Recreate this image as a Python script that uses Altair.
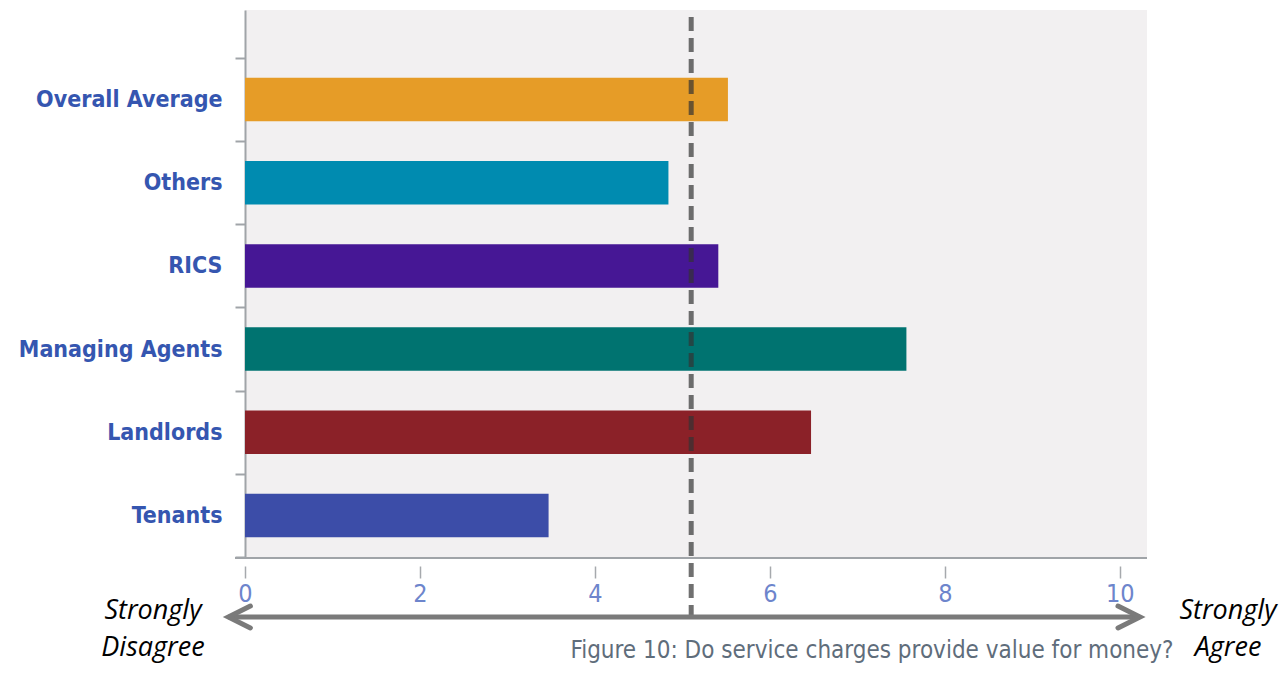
import altair as alt
import pandas as pd

# ---- data ----
categories = ["Overall Average", "Others", "RICS", "Managing Agents", "Landlords", "Tenants"]
values = [5.52, 4.84, 5.41, 7.56, 6.47, 3.47]
bar_colors = ["#e69c27", "#008bb0", "#461795", "#007370", "#8b2128", "#3c4da8"]
x_ticks = [0, 2, 4, 6, 8, 10]
x_max = 10.31
neutral_value = 5.1
arrow_ends = [-0.19, 10.23]
title_text = "Figure 10: Do service charges provide value for money?"
left_note = ["Strongly", "Disagree"]
right_note = ["Strongly", "Agree"]

W, H = 902, 547

df = pd.DataFrame({"group": categories, "score": values})

label_font = "DejaVu Sans Condensed, Liberation Sans"

xscale = alt.Scale(domain=[0, x_max], nice=False, zero=True)
yscale = alt.Scale(domain=categories, paddingInner=0, paddingOuter=0.2885, align=1)

bars = alt.Chart(df).mark_bar(height=alt.RelativeBandSize(0.523)).encode(
    x=alt.X("score:Q", scale=xscale,
            axis=alt.Axis(values=x_ticks, format="d", title=None, domain=False, grid=False,
                          offset=9, tickSize=12, tickColor="#a6a9ad", tickWidth=1.5,
                          labelFont=label_font, labelFontSize=25, labelColor="#6d85cc",
                          labelPadding=3, labelFlush=False)),
    y=alt.Y("group:N", scale=yscale, sort=categories,
            axis=alt.Axis(title=None, tickBand="extent", tickSize=10, tickColor="#a0a4a8",
                          tickWidth=2, domainColor="#a0a4a8", domainWidth=2, labelLimit=0,
                          labelFont=label_font, labelFontSize=23, labelFontWeight="bold",
                          labelColor="#3556b0", labelPadding=13, grid=False)),
    color=alt.Color("group:N", scale=alt.Scale(domain=categories, range=bar_colors), legend=None),
)

bottom_line = alt.Chart(df).mark_rule(color="#a0a4a8", strokeWidth=2).encode(
    x=alt.value(-10), x2=alt.value(W), y=alt.value(H + 1)
)

dash = alt.Chart(pd.DataFrame({"v": [neutral_value]})).mark_rule(
    color="#333333", strokeWidth=5, strokeDash=[14, 7], opacity=0.7
).encode(x=alt.X("v:Q", scale=xscale), y=alt.value(7), y2=alt.value(607))

arrow_df = pd.DataFrame({"a": [arrow_ends[0]], "b": [arrow_ends[1]]})
shaft = alt.Chart(arrow_df).mark_rule(color="#7a7a7a", strokeWidth=5).encode(
    x=alt.X("a:Q", scale=xscale), x2="b:Q", y=alt.value(607)
)
head_left = alt.Chart(arrow_df).mark_point(
    shape="M1,-0.5L0,0L1,0.5", size=1936, filled=False, color="#7a7a7a",
    strokeWidth=5, opacity=1, strokeCap="round", strokeJoin="miter"
).encode(x=alt.X("a:Q", scale=xscale), y=alt.value(607))
head_right = alt.Chart(arrow_df).mark_point(
    shape="M-1,-0.5L0,0L-1,0.5", size=1936, filled=False, color="#7a7a7a",
    strokeWidth=5, opacity=1, strokeCap="round", strokeJoin="miter"
).encode(x=alt.X("b:Q", scale=xscale), y=alt.value(607))

note_l = alt.Chart(arrow_df).mark_text(
    font="Open Sans", fontStyle="italic", fontSize=27, color="#000000",
    align="center", baseline="middle", lineHeight=37
).encode(x=alt.value(-92), y=alt.value(601), text=alt.value(left_note))

note_r = alt.Chart(arrow_df).mark_text(
    font="Open Sans", fontStyle="italic", fontSize=27, color="#000000",
    align="center", baseline="middle", lineHeight=37
).encode(x=alt.value(983), y=alt.value(601), text=alt.value(right_note))

title = alt.Chart(arrow_df).mark_text(
    font=label_font, fontSize=24, color="#5f6d7b", align="center", baseline="middle"
).encode(x=alt.value(627), y=alt.value(641), text=alt.value(title_text))

chart = alt.layer(bars, bottom_line, dash, shaft, head_left, head_right, note_l, note_r, title).properties(
    width=W, height=H,
    background="#ffffff",
    autosize=alt.AutoSizeParams(type="none"),
    padding={"left": 237, "top": 2, "right": 133, "bottom": 110},
).configure_view(fill="#f2f0f1", stroke=None)

chart.save("out.html", embed_options={"renderer": "svg", "actions": False})
